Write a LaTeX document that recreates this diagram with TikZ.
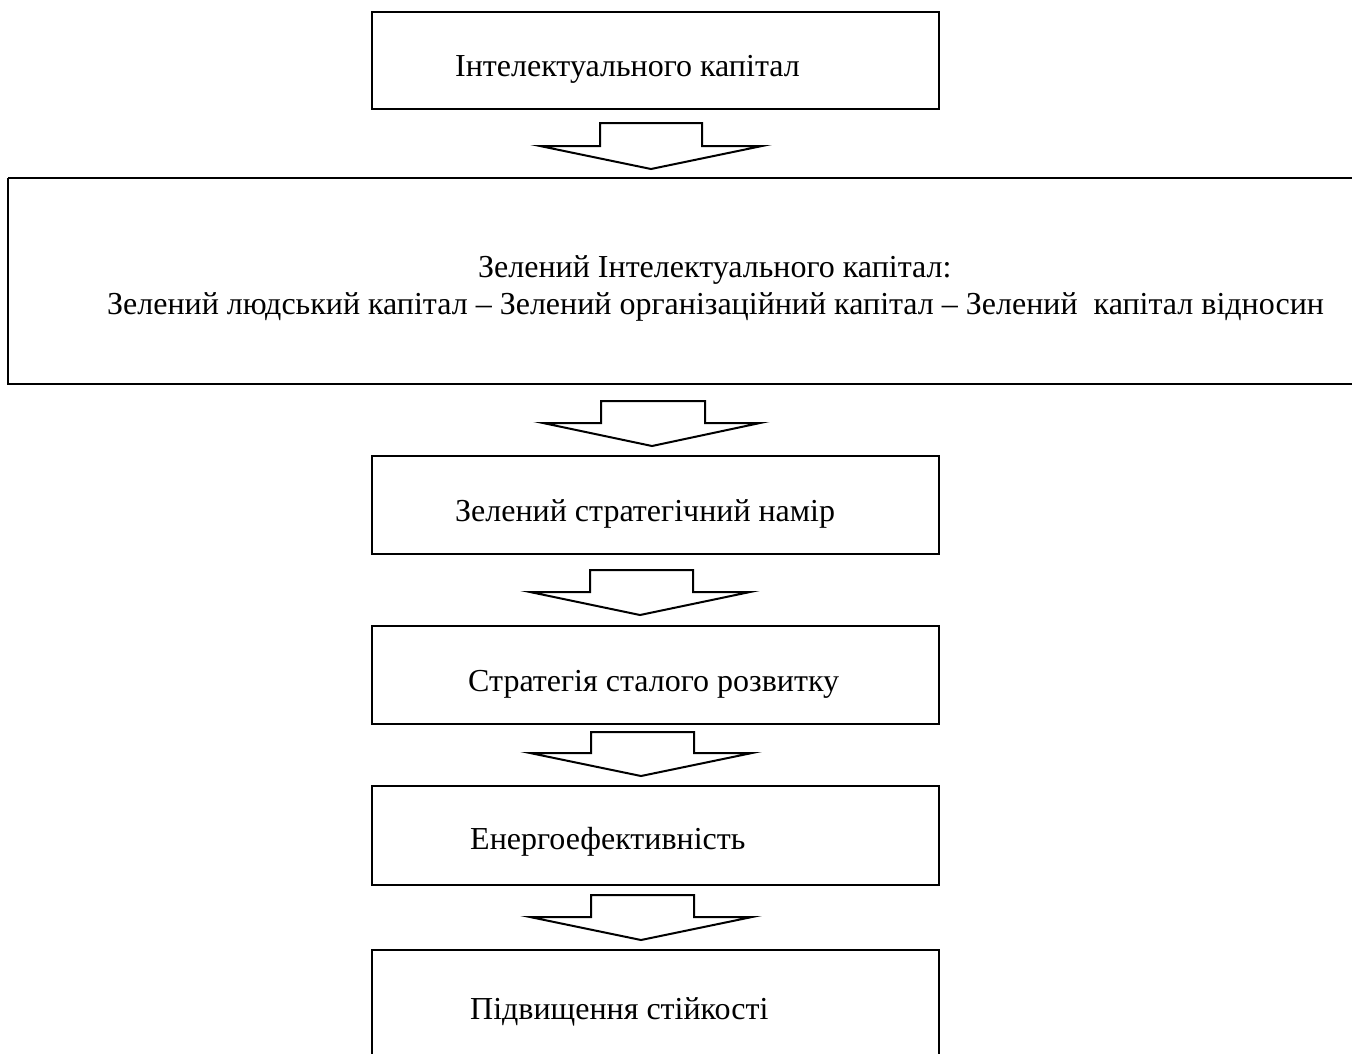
\documentclass[tikz,border=0pt]{standalone}
\usepackage{fontspec}
\setmainfont{Liberation Serif}
\begin{document}
\begin{tikzpicture}[x=1pt,y=-1pt,
  boxst/.style={draw=black,line width=2.2pt},
  arrowst/.style={draw=black,line width=2pt,line join=miter},
  txt/.style={inner sep=0pt,anchor=base west,font=\fontsize{32}{38}\selectfont}]
\useasboundingbox (0,0) rectangle (1352,1053);
% boxes
\draw[boxst] (372,12) rectangle (939,109);
\draw[boxst] (8,178) -- (1360,178) (8,178) -- (8,384) -- (1360,384);
\draw[boxst] (372,456) rectangle (939,554);
\draw[boxst] (372,626) rectangle (939,724);
\draw[boxst] (372,786) rectangle (939,885);
\draw[boxst] (372,1070) -- (372,950) -- (939,950) -- (939,1070);
% texts
\node[txt] (t1) at (455,76) {Інтелектуального капітал};
\node[txt] (t2a) at (478,277) {Зелений Інтелектуального капітал:};
\node[txt] (t2b) at (107,314) {Зелений людський капітал – Зелений організаційний капітал – Зелений\ \ капітал відносин};
\node[txt] (t3) at (455,521) {Зелений стратегічний намір};
\node[txt] (t4) at (468,691) {Стратегія сталого розвитку};
\node[txt] (t5) at (470,849) {Енергоефективність};
\node[txt] (t6) at (470,1019) {Підвищення стійкості};
% block arrows
\draw[arrowst] (600,123) -- (702,123) -- (702,146) -- (762,146) -- (651,169) -- (540,146) -- (600,146) -- cycle;
\draw[arrowst] (601,401) -- (705,401) -- (705,423) -- (760,423) -- (652,446) -- (543,423) -- (601,423) -- cycle;
\draw[arrowst] (590,570) -- (693,570) -- (693,592) -- (750,592) -- (640,615) -- (530,592) -- (590,592) -- cycle;
\draw[arrowst] (591,732) -- (694,732) -- (694,753) -- (752,753) -- (641,776) -- (530,753) -- (591,753) -- cycle;
\draw[arrowst] (591,895) -- (694,895) -- (694,917) -- (752,917) -- (641,940) -- (530,917) -- (591,917) -- cycle;
\end{tikzpicture}
\end{document}
